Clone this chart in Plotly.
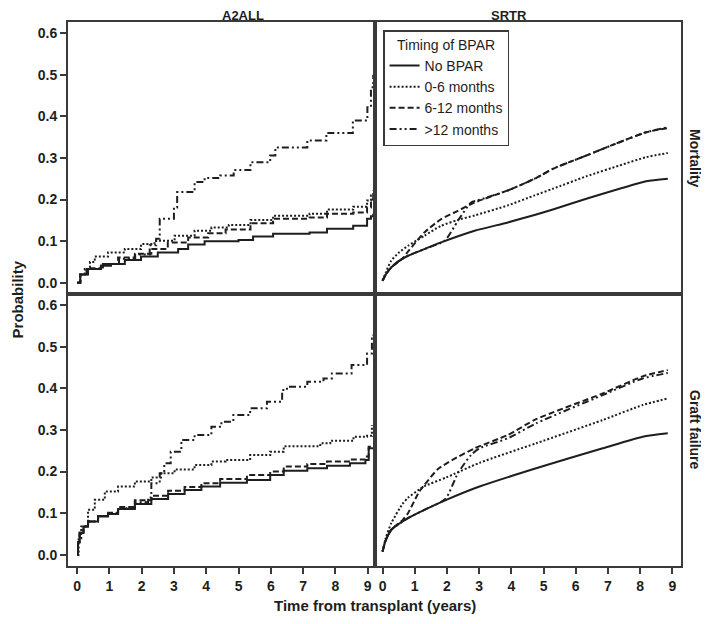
import plotly.graph_objects as go
from plotly.subplots import make_subplots

# ---------------- data ----------------
series_names = ["No BPAR", "0-6 months", "6-12 months", ">12 months"]

# A2ALL - Mortality (step curves)
a2_mort_none_t = [0, 0.1, 0.34, 0.74, 1.05, 1.48, 1.98, 2.5, 3.13, 3.44, 3.95, 4.43, 5.0, 5.45, 6.07, 7.2, 7.74, 8.55, 8.98, 9.1, 9.17]
a2_mort_none_p = [0, 0.02, 0.033, 0.041, 0.045, 0.055, 0.063, 0.073, 0.081, 0.092, 0.100, 0.100, 0.103, 0.111, 0.118, 0.121, 0.130, 0.137, 0.154, 0.160, 0.166]
a2_mort_06_t = [0, 0.1, 0.24, 0.4, 0.55, 0.96, 1.48, 1.98, 2.4, 3.02, 3.64, 4.16, 4.7, 5.37, 6.07, 7.2, 7.74, 8.55, 8.98, 9.1, 9.17]
a2_mort_06_p = [0, 0.02, 0.033, 0.05, 0.063, 0.073, 0.081, 0.093, 0.101, 0.113, 0.125, 0.133, 0.139, 0.151, 0.161, 0.166, 0.176, 0.183, 0.198, 0.210, 0.222]
a2_mort_612_t = [0, 0.1, 0.3, 0.74, 1.27, 1.79, 2.3, 2.81, 3.44, 4.06, 4.6, 5.37, 6.07, 7.2, 7.74, 8.55, 8.98, 9.1, 9.17]
a2_mort_612_p = [0, 0.02, 0.035, 0.045, 0.061, 0.07, 0.081, 0.097, 0.109, 0.119, 0.128, 0.143, 0.154, 0.157, 0.166, 0.169, 0.181, 0.200, 0.214]
a2_mort_12_t = [0, 0.1, 0.3, 0.8, 1.3, 1.8, 2.25, 2.45, 2.56, 3.0, 3.1, 3.64, 3.95, 4.43, 4.85, 5.37, 5.98, 6.14, 7.13, 7.72, 8.54, 8.99, 9.1, 9.17]
a2_mort_12_p = [0, 0.02, 0.033, 0.045, 0.058, 0.068, 0.09, 0.106, 0.154, 0.181, 0.218, 0.242, 0.252, 0.258, 0.271, 0.29, 0.306, 0.325, 0.342, 0.36, 0.39, 0.422, 0.47, 0.50]

# A2ALL - Graft failure (step curves)
a2_graft_none_t = [0, 0.03, 0.08, 0.2, 0.34, 0.65, 0.96, 1.27, 1.79, 2.3, 2.82, 3.33, 3.85, 4.43, 5.26, 5.98, 6.4, 7.13, 7.74, 8.45, 8.93, 9.03, 9.15]
a2_graft_none_p = [0, 0.03, 0.053, 0.068, 0.08, 0.092, 0.098, 0.11, 0.122, 0.134, 0.146, 0.156, 0.164, 0.173, 0.18, 0.192, 0.202, 0.208, 0.214, 0.22, 0.228, 0.256, 0.258]
a2_graft_06_t = [0, 0.05, 0.13, 0.34, 0.55, 0.86, 1.27, 1.79, 2.3, 2.6, 3.02, 3.64, 4.16, 4.6, 5.36, 5.98, 6.4, 7.53, 7.84, 8.56, 8.98, 9.13]
a2_graft_06_p = [0, 0.04, 0.068, 0.108, 0.132, 0.152, 0.164, 0.176, 0.186, 0.196, 0.205, 0.216, 0.224, 0.228, 0.24, 0.248, 0.261, 0.268, 0.274, 0.284, 0.286, 0.312]
a2_graft_612_t = [0, 0.03, 0.08, 0.2, 0.34, 0.65, 0.96, 1.27, 1.79, 2.3, 2.82, 3.33, 3.85, 4.43, 5.26, 5.98, 6.4, 7.13, 7.74, 8.45, 8.93, 9.03, 9.15]
a2_graft_612_p = [0, 0.03, 0.053, 0.068, 0.08, 0.093, 0.101, 0.115, 0.131, 0.142, 0.154, 0.163, 0.172, 0.182, 0.192, 0.2, 0.212, 0.218, 0.224, 0.229, 0.236, 0.26, 0.262]
a2_graft_12_t = [0, 0.03, 0.08, 0.2, 0.34, 0.65, 0.96, 1.27, 1.79, 2.2, 2.3, 2.56, 2.7, 2.9, 3.23, 3.64, 4.16, 4.47, 4.84, 5.36, 5.88, 6.35, 6.5, 7.13, 7.63, 7.89, 8.5, 8.98, 9.13, 9.18]
a2_graft_12_p = [0, 0.03, 0.053, 0.068, 0.08, 0.093, 0.1, 0.112, 0.126, 0.138, 0.172, 0.196, 0.22, 0.248, 0.276, 0.288, 0.308, 0.32, 0.336, 0.352, 0.368, 0.396, 0.404, 0.416, 0.424, 0.436, 0.456, 0.484, 0.52, 0.53]

# SRTR - Mortality (smooth curves)
sr_mort_none_t = [0, 0.1, 0.27, 0.5, 0.79, 1.3, 1.82, 2.86, 3.89, 4.72, 5.29, 6.33, 7.36, 8.19, 8.86]
sr_mort_none_p = [0.005, 0.02, 0.037, 0.052, 0.065, 0.081, 0.097, 0.125, 0.145, 0.163, 0.176, 0.202, 0.226, 0.244, 0.25]
sr_mort_06_t = [0, 0.1, 0.27, 0.5, 0.79, 1.3, 1.82, 2.34, 2.86, 3.89, 4.72, 5.29, 6.33, 7.36, 8.19, 8.86]
sr_mort_06_p = [0.005, 0.025, 0.053, 0.072, 0.089, 0.113, 0.137, 0.151, 0.162, 0.186, 0.21, 0.226, 0.256, 0.282, 0.302, 0.312]
sr_mort_612_t = [0, 0.1, 0.27, 0.6, 0.79, 1.3, 1.82, 2.34, 2.86, 3.89, 4.72, 5.29, 6.33, 7.36, 8.19, 8.86]
sr_mort_612_p = [0.005, 0.02, 0.037, 0.057, 0.075, 0.121, 0.153, 0.173, 0.193, 0.222, 0.25, 0.274, 0.306, 0.338, 0.362, 0.372]
sr_mort_12_t = [0, 0.1, 0.27, 0.5, 0.79, 1.3, 1.93, 2.34, 2.75, 2.95, 3.89, 4.72, 5.29, 6.33, 7.36, 8.19, 8.86]
sr_mort_12_p = [0.005, 0.02, 0.037, 0.052, 0.065, 0.081, 0.101, 0.149, 0.193, 0.198, 0.222, 0.25, 0.274, 0.306, 0.338, 0.362, 0.374]

# SRTR - Graft failure (smooth curves)
sr_graft_none_t = [0, 0.1, 0.27, 0.79, 1.3, 1.98, 3.01, 4.77, 6.84, 8.08, 8.86]
sr_graft_none_p = [0.008, 0.035, 0.06, 0.088, 0.108, 0.132, 0.164, 0.208, 0.256, 0.284, 0.292]
sr_graft_06_t = [0, 0.1, 0.27, 0.62, 0.79, 1.14, 1.3, 1.98, 3.01, 4.77, 6.84, 8.08, 8.86]
sr_graft_06_p = [0.008, 0.04, 0.076, 0.122, 0.137, 0.157, 0.165, 0.186, 0.221, 0.268, 0.324, 0.36, 0.376]
sr_graft_612_t = [0, 0.1, 0.27, 0.63, 0.79, 1.14, 1.3, 1.72, 2.17, 2.86, 3.89, 4.77, 6.84, 8.08, 8.86]
sr_graft_612_p = [0.008, 0.035, 0.06, 0.084, 0.1, 0.152, 0.168, 0.206, 0.228, 0.256, 0.288, 0.326, 0.388, 0.429, 0.444]
sr_graft_12_t = [0, 0.1, 0.27, 0.79, 1.3, 1.95, 2.34, 2.75, 3.01, 3.89, 4.77, 6.84, 8.08, 8.86]
sr_graft_12_p = [0.008, 0.035, 0.06, 0.088, 0.108, 0.134, 0.196, 0.24, 0.256, 0.28, 0.316, 0.384, 0.424, 0.437]

x_ticks = [0, 1, 2, 3, 4, 5, 6, 7, 8, 9]
y_ticks = [0.0, 0.1, 0.2, 0.3, 0.4, 0.5, 0.6]
y_tick_labels = ["0.0", "0.1", "0.2", "0.3", "0.4", "0.5", "0.6"]

# ---------------- figure ----------------
INK = "#1e1e1e"
FRAME = "#3a3a3a"
FONT = "Liberation Sans"
dashes = ["solid", "2px,2px", "6px,3px", "7px,3px,2px,3px,2px,3px"]

fig = make_subplots(rows=2, cols=2, horizontal_spacing=0, vertical_spacing=0)

panels = [
    (1, 1, "hv", [(a2_mort_none_t, a2_mort_none_p), (a2_mort_06_t, a2_mort_06_p),
                  (a2_mort_612_t, a2_mort_612_p), (a2_mort_12_t, a2_mort_12_p)]),
    (1, 2, "spline", [(sr_mort_none_t, sr_mort_none_p), (sr_mort_06_t, sr_mort_06_p),
                      (sr_mort_612_t, sr_mort_612_p), (sr_mort_12_t, sr_mort_12_p)]),
    (2, 1, "hv", [(a2_graft_none_t, a2_graft_none_p), (a2_graft_06_t, a2_graft_06_p),
                  (a2_graft_612_t, a2_graft_612_p), (a2_graft_12_t, a2_graft_12_p)]),
    (2, 2, "spline", [(sr_graft_none_t, sr_graft_none_p), (sr_graft_06_t, sr_graft_06_p),
                      (sr_graft_612_t, sr_graft_612_p), (sr_graft_12_t, sr_graft_12_p)]),
]

for r, c, shape, data in panels:
    for i, (t, p) in enumerate(data):
        line = dict(color=INK, width=2, dash=dashes[i], shape=shape)
        if shape == "spline":
            line["smoothing"] = 0.6
        fig.add_trace(go.Scatter(
            x=t, y=p, mode="lines", name=series_names[i], line=line,
            showlegend=(r == 1 and c == 2), legendgroup=series_names[i],
        ), row=r, col=c)

axis_common = dict(showline=True, linecolor=FRAME, linewidth=2, mirror=True,
                   showgrid=False, zeroline=False)
tickfont = dict(family=FONT, size=14, color=INK, weight="bold")

for r in (1, 2):
    for c in (1, 2):
        xr = [-0.28, 9.21] if c == 1 else [-0.25, 9.27]
        if r == 2:
            fig.update_xaxes(range=xr, tickmode="array", tickvals=x_ticks,
                             ticks="outside", ticklen=6, tickwidth=1.5, tickcolor=FRAME,
                             tickfont=tickfont, row=r, col=c, **axis_common)
        else:
            fig.update_xaxes(range=xr, showticklabels=False, ticks="",
                             row=r, col=c, **axis_common)
        if c == 1:
            fig.update_yaxes(range=[-0.027, 0.627], tickmode="array", tickvals=y_ticks,
                             ticktext=y_tick_labels, ticks="outside", ticklen=6,
                             tickwidth=1.5, tickcolor=FRAME, tickfont=tickfont,
                             row=r, col=c, **axis_common)
        else:
            fig.update_yaxes(range=[-0.027, 0.627], showticklabels=False, ticks="",
                             row=r, col=c, **axis_common)

bold = dict(family=FONT, size=14, color=INK, weight="bold")
title_font = dict(family=FONT, size=13, color=INK, weight="bold")
annotations = [
    dict(text="A2ALL", x=0.25, y=1.0, yshift=-2, xref="paper", yref="paper",
         showarrow=False, font=title_font, yanchor="bottom", borderpad=0),
    dict(text="SRTR", x=0.75, y=1.0, yshift=-2, xref="paper", yref="paper",
         showarrow=False, font=title_font, yanchor="bottom", borderpad=0),
    dict(text="Mortality", x=1.0, xshift=14, y=0.75, xref="paper", yref="paper",
         showarrow=False, font=bold, textangle=90, xanchor="center", yanchor="middle"),
    dict(text="Graft failure", x=1.0, xshift=14, y=0.25, xref="paper", yref="paper",
         showarrow=False, font=bold, textangle=90, xanchor="center", yanchor="middle"),
    dict(text="Probability", x=0.0, xshift=-51, y=0.49, xref="paper", yref="paper",
         showarrow=False, font=dict(family=FONT, size=15, color=INK, weight="bold"),
         textangle=-90, xanchor="center", yanchor="middle", borderpad=0),
    dict(text="Time from transplant (years)", x=0.5, y=0.0, yshift=-39, xref="paper",
         yref="paper", showarrow=False,
         font=dict(family=FONT, size=15, color=INK, weight="bold"),
         xanchor="center", yanchor="middle"),
]

# page body adds an 8px offset, so the figure is 8px smaller with shifted margins
fig.update_layout(
    width=701, height=616,
    margin=dict(l=60, r=28, t=14, b=58),
    paper_bgcolor="white", plot_bgcolor="white",
    annotations=annotations,
    legend=dict(
        title=dict(text="Timing of BPAR", side="top center",
                   font=dict(family=FONT, size=14, color=INK)),
        font=dict(family=FONT, size=14, color=INK),
        x=0.514, y=0.985, xanchor="left", yanchor="top",
        bgcolor="white", bordercolor=FRAME, borderwidth=1.5,
        tracegroupgap=0, itemwidth=30,
    ),
)

fig.write_html("out.html")
